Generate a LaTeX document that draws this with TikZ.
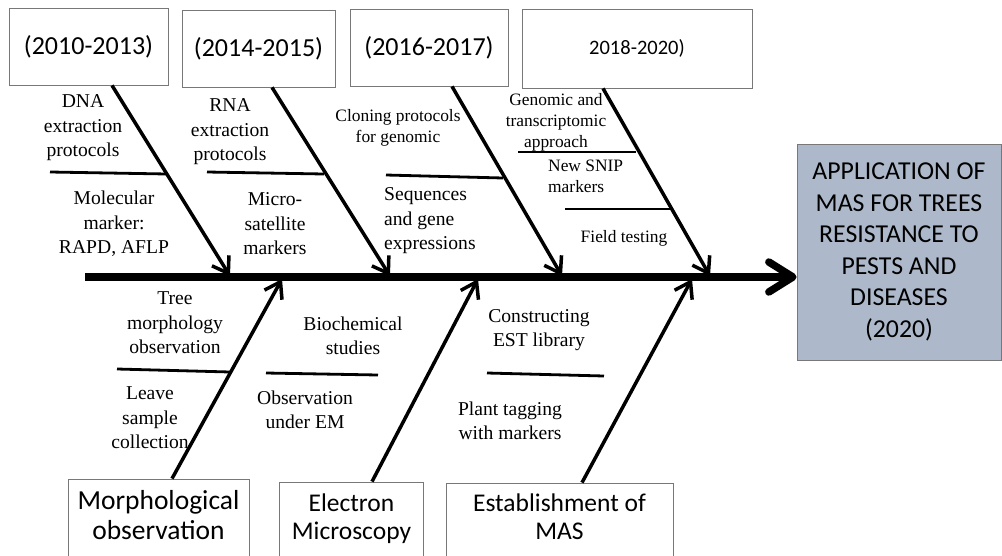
\documentclass[tikz,border=0pt]{standalone}
\usepackage{fontspec}
\setmainfont{Liberation Serif}
\newfontfamily\calfont{Carlito}
\usepackage{xcolor}
\usetikzlibrary{arrows.meta}
\definecolor{goalfill}{RGB}{173,185,202}
\definecolor{boxline}{RGB}{120,120,120}

\tikzset{
    yearbox/.style={draw=boxline, line width=0.8pt, minimum width=#1, minimum height=77, inner sep=0pt, font=\calfont\fontsize{26}{31}\selectfont},
    catbox/.style={draw=boxline, line width=0.8pt, minimum width=#1, minimum height=81, inner sep=0pt},
    cattext/.style={align=center, inner sep=0pt, font=\calfont\fontsize{25.5}{28}\selectfont},
    goalbox/.style={draw=boxline, fill=goalfill, line width=0.8pt, minimum width=204, minimum height=216, align=center, inner sep=0pt, font=\calfont\fontsize{25.8}{31.5}\selectfont},
    lbl/.style={align=center, inner sep=0pt, font=\fontsize{19.6}{24.5}\selectfont},
    slbl/.style={align=center, inner sep=0pt, font=\fontsize{17.4}{21}\selectfont},
    bone/.style={line width=3.5pt, -{Straight Barb[length=15pt,width=20pt]}},
    rib/.style={line width=2.8pt},
    spine/.style={line width=7.5pt, -{Straight Barb[length=24pt,width=30pt,round]}}
}

\begin{document}
\begin{tikzpicture}[x=1pt, y=-1pt]
    %own code
    \useasboundingbox (0,0) rectangle (1002,555);
    \clip (0,0) rectangle (1002,555);

    \node[yearbox=159] (yearA) at (88.5,46.5) {(2010-2013)};
    \node[yearbox=153] (yearB) at (258.5,48.5) {(2014-2015)};
    \node[yearbox=158] (yearC) at (429,47.5) {(2016-2017)};
    \node[yearbox=230, minimum height=79, font=\calfont\fontsize{20.5}{24}\selectfont] (yearD) at (637,48.5) {2018-2020)};

    \node[goalbox] (goal) at (899,252) {APPLICATION OF\\MAS FOR TREES\\RESISTANCE TO\\PESTS AND\\DISEASES\\(2020)};

    \node[catbox=181] (morph) at (158.5,519.5) {};
    \node[catbox=144] (micro) at (351.5,522.5) {};
    \node[catbox=227] (mas) at (559.5,523.5) {};
    \node[cattext, font=\calfont\fontsize{27.5}{30}\selectfont] (morphtxt) at (158.5,515.5) {Morphological\\observation};
    \node[cattext] (microtxt) at (351.5,518.5) {Electron\\Microscopy};
    \node[cattext] (mastxt) at (559.5,516.5) {Establishment of\\MAS};

    \coordinate (tail) at (85,277);
    \draw[spine] (tail) -- (tail -| goal.west);

    \coordinate (hitA) at (230,276);
    \coordinate (hitB) at (390,276);
    \coordinate (hitC) at (562,276);
    \coordinate (hitD) at (710,276);
    \coordinate (hitE) at (282,279);
    \coordinate (hitF) at (478,279);
    \coordinate (hitG) at (692,279);

    \draw[bone] ([xshift=23.5]yearA.south) -- (hitA);
    \draw[bone] ([xshift=13.5]yearB.south) -- (hitB);
    \draw[bone] ([xshift=23]yearC.south) -- (hitC);
    \draw[bone] ([xshift=-34]yearD.south) -- (hitD);
    \draw[bone] ([xshift=13.5]morph.north) -- (hitE);
    \draw[bone] ([xshift=20.5]micro.north) -- (hitF);
    \draw[bone] ([xshift=22.5]mas.north) -- (hitG);

    \draw[rib] (50,172) -- (167,174);
    \draw[rib] (207,172) -- (324,174);
    \draw[rib] (386,175) -- (503,178);
    \draw[rib] (518,152) -- (636,152);
    \draw[rib] (565,209) -- (670,209);
    \draw[rib] (117,369) -- (230,372);
    \draw[rib] (266,373) -- (378,375);
    \draw[rib] (487,373) -- (604,376);

    \node[lbl] (dna) at (83,128) {DNA\\extraction\\protocols};
    \node[lbl] (marker) at (114,224) {Molecular\\marker:\\RAPD, AFLP};
    \node[lbl] (rna) at (230,132) {RNA\\extraction\\protocols};
    \node[lbl] (ssr) at (275,224) {Micro-\\satellite\\markers};
    \node[slbl] (cloning) at (398,128) {Cloning protocols\\for genomic};
    \node[lbl, align=left, anchor=west] (sequences) at (384,221) {Sequences\\and gene\\expressions};
    \node[slbl] (omics) at (556,122) {Genomic and\\transcriptomic\\approach};
    \node[slbl, align=left, anchor=west] (snip) at (548,176) {New SNIP\\markers};
    \node[slbl] (field) at (624,238) {Field testing};
    \node[lbl] (tree) at (175,323) {Tree\\morphology\\observation};
    \node[lbl] (leave) at (150,418) {Leave\\sample\\collection};
    \node[lbl] (biochem) at (353,336) {Biochemical\\studies};
    \node[lbl] (underem) at (305,410) {Observation\\under EM};
    \node[lbl] (est) at (539,330) {Constructing\\EST library};
    \node[lbl] (tagging) at (510,421) {Plant tagging\\with markers};

\end{tikzpicture}
\end{document}
